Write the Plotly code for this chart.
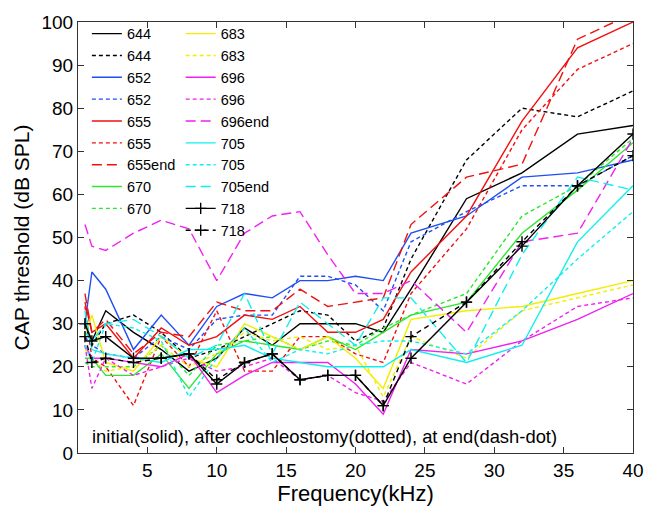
import plotly.graph_objects as go

freq_khz = [0.5, 1, 2, 4, 6, 8, 10, 12, 14, 16, 18, 20, 22, 24, 28, 32, 36, 40]

cap_644_initial = [30, 26, 33, 28, 24, 19, 22, 29, 25, 30, 30, 30, 28, 38, 59, 65, 74, 76]
cap_644_after = [30, 25, 30, 32, 28, 22, 24, 27, 30, 33, 32, 26, 29, 45, 68, 80, 78, 84]
cap_652_initial = [30, 42, 38, 24, 32, 25, 34, 37, 36, 40, 40, 41, 40, 51, 55, 64, 65, 68]
cap_652_after = [27, 25, 23, 22, 27, 24, 31, 32, 32, 41, 41, 39, 33, 49, 56, 62, 62, 69]
cap_655_initial = [35, 28, 30, 22, 29, 25, 27, 32, 31, 34, 28, 28, 31, 42, 55, 77, 94, 100]
cap_655_after = [34, 22, 20, 11, 27, 20, 33, 19, 19, 27, 27, 23, 21, 37, 52, 75, 89, 95]
cap_655_end = [37, 28, 31, 23, 28, 27, 35, 33, 33, 38, 34, 35, 36, 53, 64, 67, 96, 102]
cap_670_initial = [22, 22, 18, 18, 23, 15, 23, 26, 25, 24, 27, 24, 28, 32, 35, 51, 61, 72]
cap_670_after = [21, 20, 20, 20, 25, 18, 25, 26, 27, 24, 26, 25, 29, 32, 37, 55, 62, 73]
cap_683_initial = [27, 32, 21, 19, 27, 22, 20, 30, 27, 24, 27, 22, 15, 31, 33, 34, 37, 40]
cap_683_after = [24, 22, 19, 20, 25, 20, 23, 28, 26, 27, 24, 25, 13, 27, 22, 33, 36, 39]
cap_696_initial = [25, 22, 22, 21, 20, 23, 14, 18, 21, 21, 21, 16, 9, 24, 23, 26, 31, 37]
cap_696_after = [25, 15, 22, 18, 20, 22, 19, 20, 22, 17, 18, 14, 12, 21, 16, 26, 34, 36]
cap_696_end = [53, 48, 47, 51, 54, 52, 40, 51, 55, 56, 46, 37, 37, 40, 28, 49, 51, 73]
cap_705_initial = [33, 24, 23, 22, 21, 24, 24, 25, 22, 21, 20, 20, 20, 24, 21, 25, 49, 62]
cap_705_after = [25, 21, 30, 29, 26, 13, 22, 29, 21, 24, 23, 25, 26, 26, 23, 33, 45, 56]
cap_705_end = [28, 26, 30, 31, 27, 22, 25, 37, 23, 35, 30, 25, 36, 36, 21, 46, 64, 61]
cap_718_initial = [30, 26, 27, 22, 22, 23, 16, 21, 23, 17, 18, 18, 11, 22, 35, 48, 62, 74]
cap_718_after = [27, 21, 22, 21, 22, 23, 17, 21, 23, 17, 18, 18, 11, 27, 35, 49, 62, 69]

x_ticks = [5, 10, 15, 20, 25, 30, 35, 40]
y_ticks = [0, 10, 20, 30, 40, 50, 60, 70, 80, 90, 100]

BLACK = "#000000"
BLUE = "#1f4ef5"
RED = "#f01010"
GREEN = "#2ee62e"
YELLOW = "#f2ee00"
MAGENTA = "#f020f0"
CYAN = "#11eeee"

SOLID = "solid"
DOT = "4px,3px"
DASH = "10px,5px"

series = [
    ("644", cap_644_initial, BLACK, SOLID, False, "legend"),
    ("644", cap_644_after, BLACK, DOT, False, "legend"),
    ("652", cap_652_initial, BLUE, SOLID, False, "legend"),
    ("652", cap_652_after, BLUE, DOT, False, "legend"),
    ("655", cap_655_initial, RED, SOLID, False, "legend"),
    ("655", cap_655_after, RED, DOT, False, "legend"),
    ("655end", cap_655_end, RED, DASH, False, "legend"),
    ("670", cap_670_initial, GREEN, SOLID, False, "legend"),
    ("670", cap_670_after, GREEN, DOT, False, "legend"),
    ("683", cap_683_initial, YELLOW, SOLID, False, "legend2"),
    ("683", cap_683_after, YELLOW, DOT, False, "legend2"),
    ("696", cap_696_initial, MAGENTA, SOLID, False, "legend2"),
    ("696", cap_696_after, MAGENTA, DOT, False, "legend2"),
    ("696end", cap_696_end, MAGENTA, DASH, False, "legend2"),
    ("705", cap_705_initial, CYAN, SOLID, False, "legend2"),
    ("705", cap_705_after, CYAN, DOT, False, "legend2"),
    ("705end", cap_705_end, CYAN, DASH, False, "legend2"),
    ("718", cap_718_initial, BLACK, SOLID, True, "legend2"),
    ("718", cap_718_after, BLACK, "5px,4px", True, "legend2"),
]

fig = go.Figure()
for name, vals, color, dash, mark, leg in series:
    fig.add_trace(go.Scatter(
        x=freq_khz, y=vals, name=name,
        mode="lines+markers" if mark else "lines",
        line=dict(color=color, width=1.4, dash=dash),
        marker=dict(symbol="cross-thin", size=8, line=dict(color=color, width=1.4)) if mark else None,
        legend=leg,
    ))

FONT = "Liberation Sans, Arial, Helvetica, sans-serif"
legend_common = dict(
    bgcolor="rgba(0,0,0,0)", borderwidth=0, font=dict(family=FONT, size=14.5, color="#000"),
    yanchor="top", xanchor="left", tracegroupgap=0, itemwidth=30,
)
fig.update_layout(
    width=656, height=512,
    margin=dict(l=78, r=16, t=17, b=54),
    paper_bgcolor="white", plot_bgcolor="white",
    font=dict(family=FONT, color="#000"),
    legend=dict(x=0.016, y=1.01, **legend_common),
    legend2=dict(x=0.185, y=1.01, **legend_common),
    xaxis=dict(
        range=[0, 40], tickvals=x_ticks, ticktext=[str(v) for v in x_ticks],
        ticks="inside", ticklen=6, tickcolor="#333", showline=True, linecolor="#333",
        linewidth=1, mirror="ticks", showgrid=False, zeroline=False,
        tickfont=dict(size=19), title=dict(text="Frequency(kHz)", font=dict(size=22), standoff=4),
    ),
    yaxis=dict(
        range=[0, 100], tickvals=y_ticks,
        ticks="inside", ticklen=6, tickcolor="#333", showline=True, linecolor="#333",
        linewidth=1, mirror="ticks", showgrid=False, zeroline=False,
        tickfont=dict(size=19), title=dict(text="CAP threshold (dB SPL)", font=dict(size=21), standoff=6),
    ),
    annotations=[dict(
        text="initial(solid), after cochleostomy(dotted), at end(dash-dot)",
        xref="paper", yref="paper", x=0.022, y=0.038, xanchor="left", yanchor="middle",
        showarrow=False, font=dict(family=FONT, size=18.4, color="#000"),
    )],
)

fig.write_html("out.html")
